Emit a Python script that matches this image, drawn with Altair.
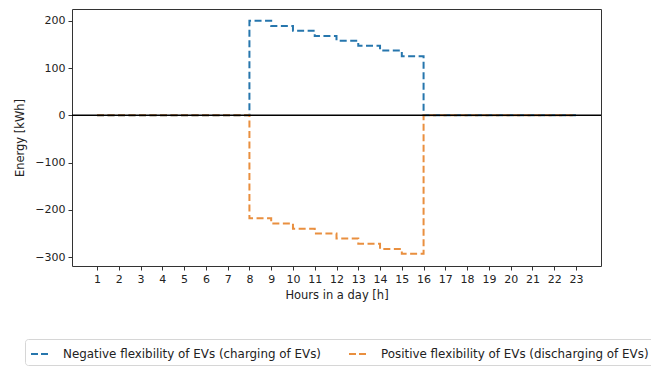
import altair as alt
import pandas as pd

hours = [1, 2, 3, 4, 5, 6, 7, 8, 9, 10, 11, 12, 13, 14, 15, 16, 17, 18, 19, 20, 21, 22, 23]
negative = [0, 0, 0, 0, 0, 0, 0, 200, 189, 179, 168, 158, 147, 137, 125, 0, 0, 0, 0, 0, 0, 0, 0]
positive = [0, 0, 0, 0, 0, 0, 0, -218, -229, -240, -250, -261, -272, -283, -293, 0, 0, 0, 0, 0, 0, 0, 0]
series_names = ["Negative flexibility of EVs (charging of EVs)",
                "Positive flexibility of EVs (discharging of EVs)"]
colors = ["#2676ad", "#e98f3f"]
x_ticks = hours
y_ticks = [-300, -200, -100, 0, 100, 200]

rows = []
for h, v in zip(hours, negative):
    rows.append({"hour": h, "energy": v, "series": series_names[0]})
for h, v in zip(hours, positive):
    rows.append({"hour": h, "energy": v, "series": series_names[1]})
df = pd.DataFrame(rows)

FONT = "DejaVu Sans"

x_enc = alt.X("hour:Q",
              scale=alt.Scale(domain=[-0.15, 24.15], nice=False, zero=False),
              axis=alt.Axis(values=x_ticks, title="Hours in a day [h]", grid=False,
                            labelFlush=False, format="d"))
y_enc = alt.Y("energy:Q",
              scale=alt.Scale(domain=[-319, 225], nice=False, zero=False),
              axis=alt.Axis(values=y_ticks, title="Energy [kWh]", grid=False))

lines = alt.Chart(df).mark_line(interpolate="step-after", strokeWidth=2,
                                strokeDash=[7, 3.5]).encode(
    x=x_enc,
    y=y_enc,
    color=alt.Color("series:N",
                    scale=alt.Scale(domain=series_names, range=colors),
                    sort=series_names,
                    legend=alt.Legend(orient="none", legendX=-47, legendY=330,
                                      direction="horizontal", columns=2, title=None,
                                      symbolType="stroke", symbolStrokeWidth=2,
                                      symbolDash=[7, 3], symbolSize=324,
                                      labelFontSize=11.9, labelFont=FONT, labelColor="#222",
                                      labelLimit=500, labelOffset=13, columnPadding=24,
                                      strokeColor="#d6d6d6", fillColor="white",
                                      cornerRadius=3, padding=5)),
)

zero = alt.Chart(pd.DataFrame({"y": [0]})).mark_rule(color="black", strokeWidth=1.6).encode(
    y=alt.Y("y:Q", scale=alt.Scale(domain=[-319, 225], nice=False, zero=False))
)

chart = alt.layer(lines, zero).properties(
    width=529, height=257,
    autosize=alt.AutoSizeParams(type="none"),
    padding={"left": 64, "top": 1, "right": 50, "bottom": 100},
).configure_view(
    stroke="#333", strokeWidth=1
).configure_axis(
    labelFont=FONT, titleFont=FONT, labelFontSize=11, titleFontSize=11.5,
    labelColor="#222", titleColor="#222", titleFontWeight="normal",
    tickColor="#333", tickSize=4, domain=False, labelPadding=3
).configure_axisY(
    titlePadding=9
).configure_axisX(
    titlePadding=5
)

chart.save("out.html", embed_options={"renderer": "svg", "actions": False})
